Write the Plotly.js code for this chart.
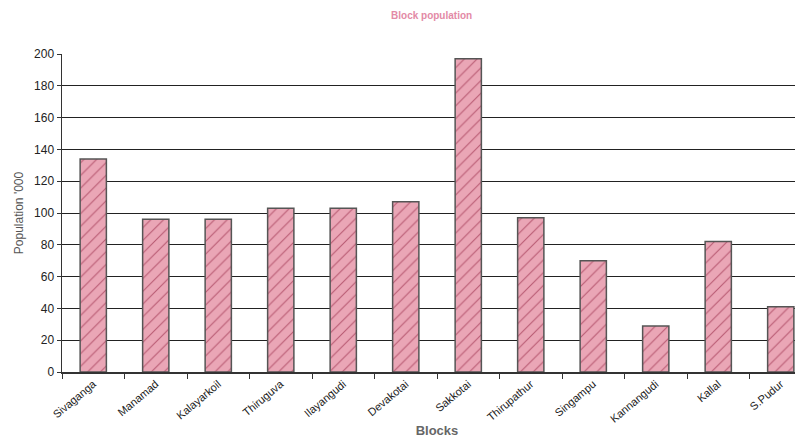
<!DOCTYPE html>
<html>
<head>
<meta charset="utf-8">
<script src="https://cdn.plot.ly/plotly-3.0.1.min.js"></script>
<style>
html,body{margin:0;padding:0;background:#fff;overflow:hidden;width:795px;height:447px;}
#chart{width:830px;height:447px;}
</style>
</head>
<body>
<div id="chart"></div>
<script>
const blocks = ["Sivaganga","Manamad","Kalayarkoil","Thiruguva","Ilayangudi","Devakotai","Sakkotai","Thirupathur","Singampu","Kannangudi","Kallal","S.Pudur"];
const population = [134, 96, 96, 103, 103, 107, 197, 97, 70, 29, 82, 41];
const yTicks = [0,20,40,60,80,100,120,140,160,180,200];

const trace = {
  type: "bar",
  x: blocks,
  y: population,
  width: 0.42,
  marker: {
    color: "#eaa6b6",
    line: {color: "#555555", width: 1.5},
    pattern: {shape: "/", fgcolor: "#b85a72", bgcolor: "#eaa6b6", size: 9, solidity: 0.12}
  },
  hoverinfo: "x+y"
};

const layout = {
  width: 830, height: 447,
  margin: {l: 62, r: 18, t: 54, b: 75},
  paper_bgcolor: "#ffffff",
  plot_bgcolor: "#ffffff",
  showlegend: false,
  title: {text: "<b>Block population</b>", x: 0.52, xanchor: "center", y: 0.965, yanchor: "middle",
          font: {family: "Liberation Sans, Arial, sans-serif", size: 10, color: "#e38aa6"}},
  xaxis: {
    type: "category",
    tickson: "boundaries",
    ticks: "outside", ticklen: 5, tickcolor: "#333",
    tickangle: -40,
    tickfont: {family: "Liberation Sans, Arial, sans-serif", size: 11, color: "#222"},
    showline: true, linecolor: "#333", linewidth: 1.5,
    showgrid: false,
    range: [-0.5, 11.5],
    title: {text: "<b>Blocks</b>", standoff: 2, font: {family: "Liberation Sans, Arial, sans-serif", size: 13, color: "#666"}}
  },
  yaxis: {
    range: [0, 200],
    tickvals: yTicks,
    ticks: "outside", ticklen: 4, tickcolor: "#333",
    tickfont: {family: "Liberation Sans, Arial, sans-serif", size: 12, color: "#222"},
    showline: true, linecolor: "#333", linewidth: 1.5,
    showgrid: true, gridcolor: "#222", gridwidth: 1,
    zeroline: false,
    title: {text: "Population '000", standoff: 8, font: {family: "Liberation Sans, Arial, sans-serif", size: 12, color: "#555"}}
  },
  bargap: 0.58
};

Plotly.newPlot("chart", [trace], layout, {displayModeBar: false, staticPlot: true});
</script>
</body>
</html>
